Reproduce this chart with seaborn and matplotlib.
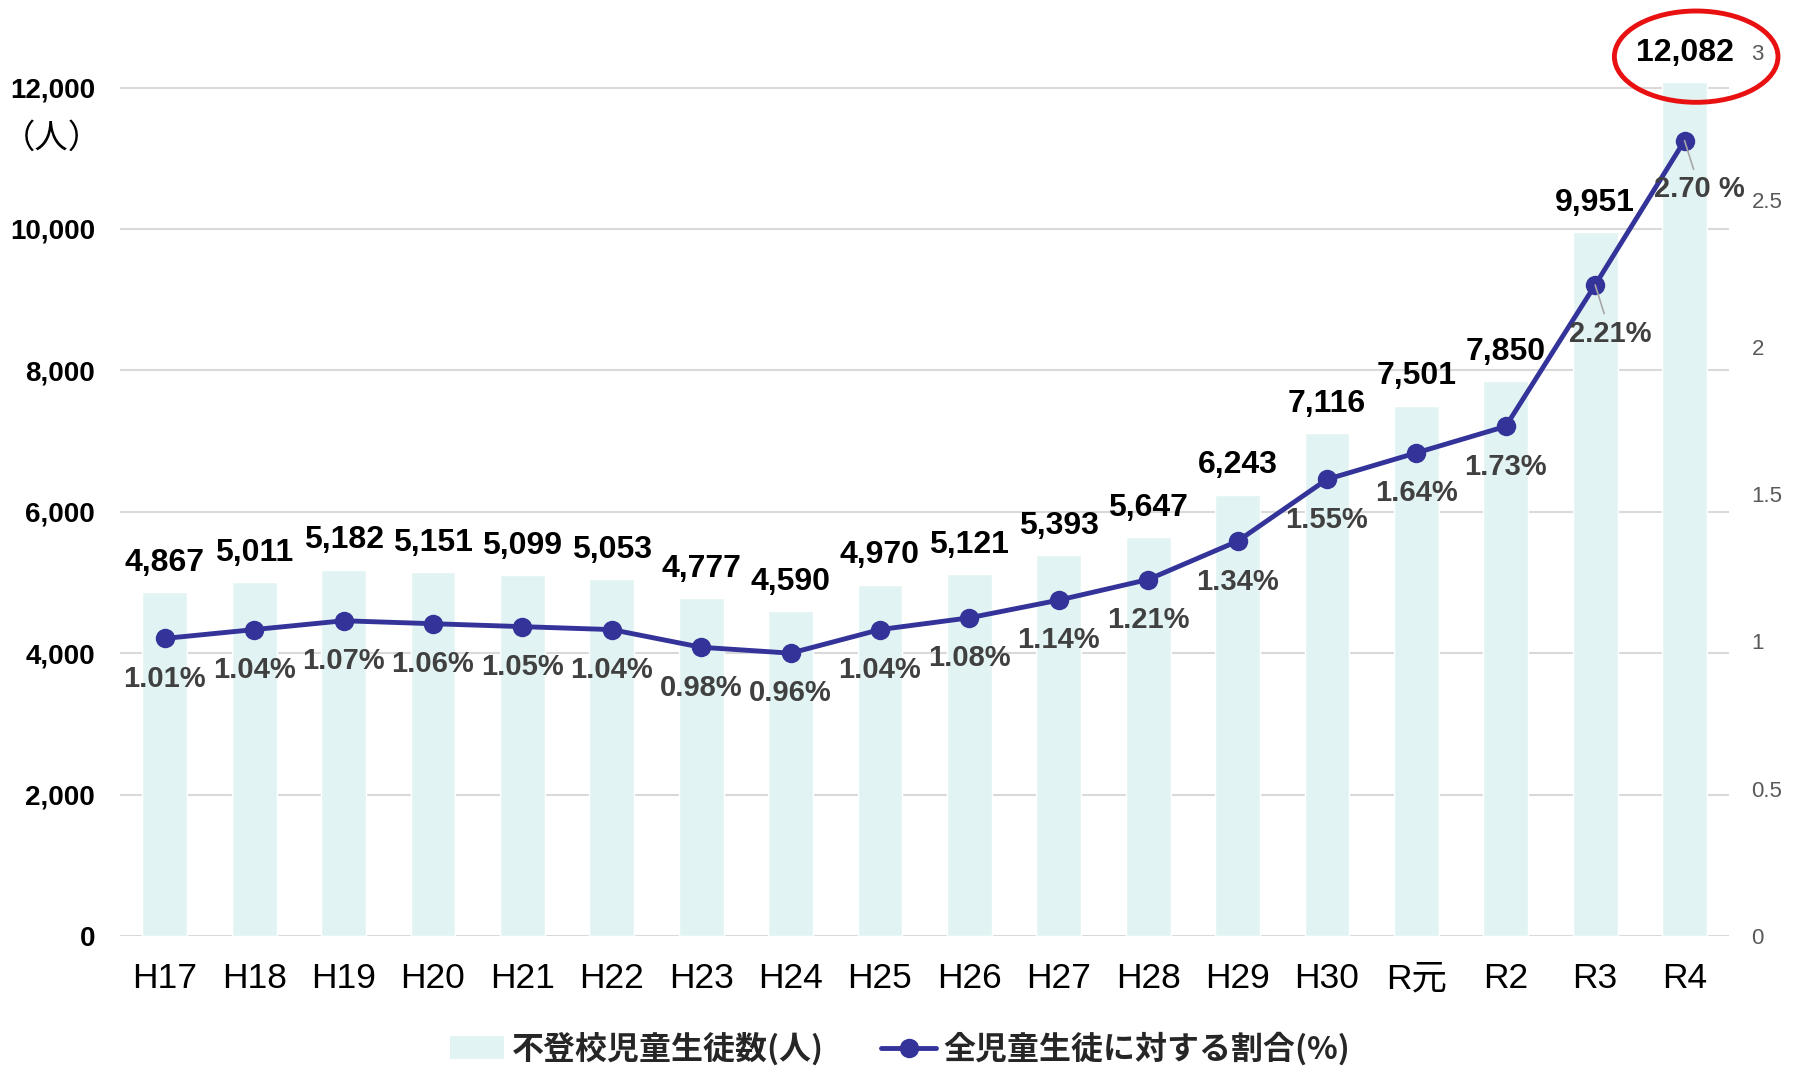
import numpy as np
import pandas as pd
import seaborn as sns
from matplotlib import pyplot as plt
from matplotlib.patches import Ellipse, Patch
from matplotlib.lines import Line2D

sns.set_style('white')
plt.rcParams['font.family'] = ['Liberation Sans', 'Noto Sans CJK JP', 'DejaVu Sans']

# 年度・不登校児童生徒数・割合
years = ['H17', 'H18', 'H19', 'H20', 'H21', 'H22', 'H23', 'H24', 'H25',
         'H26', 'H27', 'H28', 'H29', 'H30', 'R元', 'R2', 'R3', 'R4']
counts = [4867, 5011, 5182, 5151, 5099, 5053, 4777, 4590, 4970,
          5121, 5393, 5647, 6243, 7116, 7501, 7850, 9951, 12082]
rates = [1.01, 1.04, 1.07, 1.06, 1.05, 1.04, 0.98, 0.96, 1.04,
         1.08, 1.14, 1.21, 1.34, 1.55, 1.64, 1.73, 2.21, 2.70]
bar_name = '不登校児童生徒数(人)'
line_name = '全児童生徒に対する割合(%)'

bar_color = '#E2F3F3'
line_color = '#333399'

df = pd.DataFrame({'年度': years, '人数': counts, '割合': rates})
df['x'] = np.arange(len(df))

fig = plt.figure(figsize=(18, 10.66), dpi=100)
ax = fig.add_axes([0.0667, 0.122, 0.894, 0.829])

sns.barplot(data=df, x='年度', y='人数', ax=ax, color=bar_color, width=0.5,
            saturation=1)
ax.set_xlim(-0.5, len(df) - 0.5)
ax.set_ylim(0, 12500)
ax.set_yticks(range(0, 12001, 2000))
ax.set_yticklabels([f'{v:,}' for v in range(0, 12001, 2000)],
                   fontsize=20, fontweight='bold', color='black')
ax.yaxis.grid(True, color='#D9D9D9', lw=1.5)
ax.set_axisbelow(True)
ax.set_xlabel('')
ax.set_ylabel('')
ax.tick_params(axis='y', length=0, pad=18)
ax.tick_params(axis='x', length=0, pad=19, labelsize=25.5, labelcolor='black')
for s in ax.spines.values():
    s.set_visible(False)

# 棒の上の人数
for i, v in enumerate(counts):
    ax.annotate(f'{v:,}', (i, v), xytext=(0, 21), textcoords='offset points',
                ha='center', va='center', fontsize=23, fontweight='bold',
                color='black')

# 割合の折れ線
ax2 = ax.twinx()
sns.lineplot(data=df, x='x', y='割合', ax=ax2, color=line_color, lw=3.5,
             marker='o', markersize=14, markeredgewidth=0)
ax2.set_ylim(0, 3)
ax2.set_yticks([0, 0.5, 1, 1.5, 2, 2.5, 3])
ax2.set_yticklabels(['0', '0.5', '1', '1.5', '2', '2.5', '3'],
                    fontsize=16, color='#595959')
ax2.tick_params(axis='y', length=0, pad=16)
ax2.set_ylabel('')
ax2.set_xlabel('')
for s in ax2.spines.values():
    s.set_visible(False)

for i, r in enumerate(rates):
    txt = f'{r:.2f}%'
    if i == len(rates) - 1:
        txt = f'{r:.2f} %'
    if i >= len(rates) - 2:
        ax2.annotate(txt, (i, r), xytext=(11, -35), textcoords='offset points',
                     ha='center', va='center', fontsize=21, fontweight='bold',
                     color='#404040',
                     arrowprops=dict(arrowstyle='-', color='#A6A6A6', lw=1.2,
                                     shrinkA=2, shrinkB=0))
    else:
        ax2.annotate(txt, (i, r), xytext=(0, -29), textcoords='offset points',
                     ha='center', va='center', fontsize=21, fontweight='bold',
                     color='#404040')

# 単位
fig.text(0.001, 0.870, '（人）', ha='left', va='center', fontsize=24,
         color='black')

# R4を赤丸で囲む
ell = Ellipse((len(df) - 1 + 0.13, 2.985), width=1.83, height=0.31, fill=False,
              edgecolor='#E81010', lw=3.5, clip_on=False)
ax2.add_patch(ell)

handles = [Patch(facecolor=bar_color, edgecolor='none'),
           Line2D([], [], color=line_color, lw=3.5, marker='o', markersize=14,
                  markeredgewidth=0)]
fig.legend(handles, [bar_name, line_name], loc='center',
           bbox_to_anchor=(0.5, 0.016), ncol=2, frameon=False,
           prop=dict(family=['Noto Sans CJK JP'], weight='bold', size=23),
           handlelength=1.7, columnspacing=1.8, handletextpad=0.25)

plt.savefig('out.png', dpi=100)
